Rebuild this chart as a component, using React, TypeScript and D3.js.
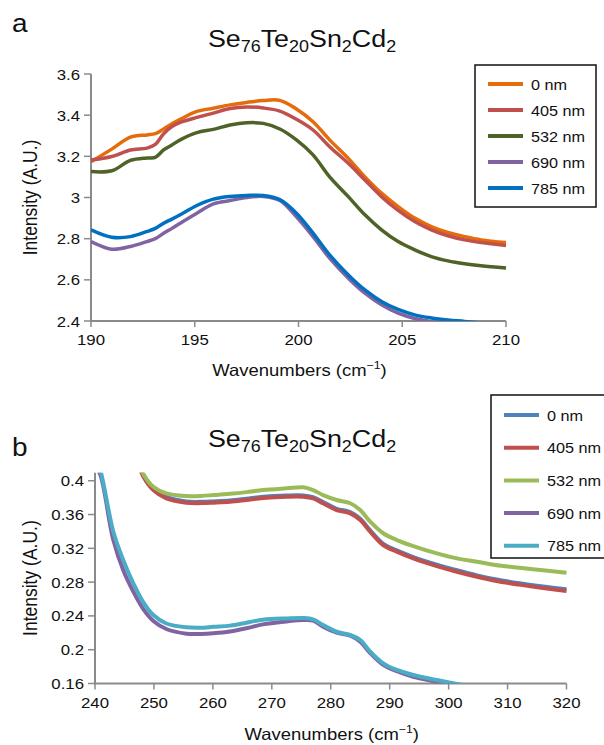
import React from "react";
import * as d3 from "d3";

// ---------- DATA ----------
const LEGEND = ["0 nm", "405 nm", "532 nm", "690 nm", "785 nm"];

const X_A = [190, 191, 191.9, 192.7, 193.1, 193.5, 193.9, 194.3, 195.1, 195.9, 196.7, 197.5, 198.3, 199.1, 199.9, 200.7, 201.5, 202.4, 203.2, 204.0, 204.8, 205.6, 206.4, 207.2, 208.0, 208.8, 210];
const A_0 = [3.174, 3.235, 3.293, 3.304, 3.31, 3.333, 3.358, 3.38, 3.418, 3.434, 3.45, 3.462, 3.471, 3.472, 3.43, 3.368, 3.28, 3.19, 3.10, 3.021, 2.956, 2.90, 2.859, 2.83, 2.81, 2.794, 2.781];
const A_405 = [3.182, 3.199, 3.231, 3.24, 3.258, 3.31, 3.345, 3.365, 3.389, 3.41, 3.432, 3.44, 3.435, 3.42, 3.38, 3.328, 3.247, 3.166, 3.085, 3.004, 2.937, 2.883, 2.843, 2.814, 2.794, 2.781, 2.767];
const A_532 = [3.126, 3.13, 3.18, 3.192, 3.195, 3.231, 3.255, 3.28, 3.315, 3.331, 3.352, 3.363, 3.36, 3.333, 3.28, 3.207, 3.10, 3.004, 2.916, 2.843, 2.786, 2.746, 2.713, 2.692, 2.678, 2.668, 2.657];
const A_690 = [2.786, 2.749, 2.762, 2.786, 2.8, 2.826, 2.85, 2.875, 2.924, 2.969, 2.985, 3.0, 3.005, 2.985, 2.906, 2.81, 2.705, 2.608, 2.535, 2.479, 2.438, 2.412, 2.397, 2.386, 2.376, 2.368, 2.36];
const A_785 = [2.843, 2.807, 2.81, 2.835, 2.85, 2.875, 2.895, 2.916, 2.961, 2.992, 3.005, 3.01, 3.01, 2.99, 2.924, 2.827, 2.721, 2.624, 2.551, 2.495, 2.456, 2.43, 2.415, 2.405, 2.398, 2.39, 2.38];

const X_B = [240, 241, 243.1, 244.8, 246.5, 248.2, 249.9, 252.1, 255.5, 258, 260.1, 262.9, 265.7, 268.5, 272.5, 275.3, 277.0, 278.7, 281.0, 283.3, 285.0, 286.7, 288.9, 291.2, 294.0, 298.0, 301.4, 304.8, 307.9, 312, 316, 320];
const B_0 = [0.602, 0.572, 0.512, 0.472, 0.437, 0.407, 0.391, 0.381, 0.3755, 0.375, 0.3755, 0.3765, 0.3787, 0.381, 0.3825, 0.3826, 0.3806, 0.3748, 0.3668, 0.3629, 0.355, 0.3412, 0.3254, 0.3176, 0.3097, 0.3006, 0.294, 0.288, 0.2834, 0.2787, 0.2748, 0.2715];
const B_405 = [0.60, 0.57, 0.51, 0.47, 0.435, 0.405, 0.389, 0.3792, 0.374, 0.3735, 0.374, 0.375, 0.3772, 0.3795, 0.3811, 0.3811, 0.3792, 0.3733, 0.3653, 0.3614, 0.3535, 0.3397, 0.3239, 0.316, 0.3081, 0.299, 0.2923, 0.2864, 0.2817, 0.277, 0.273, 0.2695];
const B_532 = [0.62, 0.58, 0.52, 0.48, 0.44, 0.408, 0.3929, 0.385, 0.3819, 0.382, 0.383, 0.3845, 0.3865, 0.389, 0.391, 0.3922, 0.389, 0.383, 0.3772, 0.3733, 0.3653, 0.3515, 0.3378, 0.3298, 0.3227, 0.314, 0.3081, 0.3042, 0.3002, 0.297, 0.294, 0.291];
const B_690 = [0.42, 0.405, 0.33, 0.294, 0.2687, 0.248, 0.234, 0.2245, 0.219, 0.2186, 0.2194, 0.2215, 0.2253, 0.23, 0.2335, 0.2352, 0.2345, 0.2272, 0.2201, 0.2165, 0.2095, 0.196, 0.182, 0.1745, 0.168, 0.162, 0.1575, 0.154, 0.151, 0.147, 0.144, 0.141];
const B_785 = [0.43, 0.41, 0.34, 0.306, 0.2786, 0.256, 0.241, 0.231, 0.2265, 0.226, 0.2272, 0.2285, 0.232, 0.2355, 0.237, 0.2375, 0.236, 0.2292, 0.2213, 0.2174, 0.2115, 0.1977, 0.1839, 0.176, 0.1701, 0.1641, 0.1594, 0.155, 0.152, 0.148, 0.145, 0.142];

const TICKS_A_X = [190, 195, 200, 205, 210];
const TICKS_A_Y = [2.4, 2.6, 2.8, 3, 3.2, 3.4, 3.6];
const TICKS_B_X = [240, 250, 260, 270, 280, 290, 300, 310, 320];
const TICKS_B_Y = [0.16, 0.2, 0.24, 0.28, 0.32, 0.36, 0.4];

const COLORS_A = ["#E46C0A", "#C0504D", "#4F6228", "#8064A2", "#0070C0"];
const COLORS_B = ["#4F81BD", "#C0504D", "#9BBB59", "#8064A2", "#4BACC6"];

// ---------- HELPERS ----------
const SX = 1.12;
const FONT = "'Liberation Sans', Arial, Helvetica, sans-serif";
const AXIS = "#8a8a8a";

function T({ x, y, size, anchor = "start", rotate = 0, children }: any) {
  return (
    <g transform={`translate(${x},${y}) scale(${SX},1) rotate(${rotate})`}>
      <text fontFamily={FONT} fontSize={size} textAnchor={anchor} fill="#111">
        {children}
      </text>
    </g>
  );
}

function Title({ x, y }: any) {
  return (
    <T x={x} y={y} size={24} anchor="middle">
      <tspan>Se</tspan>
      <tspan fontSize={16} dy={5}>76</tspan>
      <tspan dy={-5}>Te</tspan>
      <tspan fontSize={16} dy={5}>20</tspan>
      <tspan dy={-5}>Sn</tspan>
      <tspan fontSize={16} dy={5}>2</tspan>
      <tspan dy={-5}>Cd</tspan>
      <tspan fontSize={16} dy={5}>2</tspan>
    </T>
  );
}

function Panel(p: any) {
  const x = d3.scaleLinear().domain(p.xDomain).range([p.left, p.right]);
  const y = d3.scaleLinear().domain(p.yDomain).range([p.bottom, p.top]);
  const line = (vals: number[]) =>
    d3
      .line<number>()
      .x((_, i) => x(p.xs[i]))
      .y((v) => y(v))
      .curve(d3.curveCatmullRom.alpha(0.5))(vals) || "";
  const clipId = `clip-${p.id}`;
  return (
    <g>
      <defs>
        <clipPath id={clipId}>
          <rect x={p.left} y={p.top} width={p.right - p.left + 2} height={p.bottom - p.top} />
        </clipPath>
      </defs>
      <T x={12} y={p.letterY} size={25}>{p.letter}</T>
      <Title x={p.titleX} y={p.titleY} />
      {/* axes */}
      <line x1={p.left} x2={p.left} y1={p.top} y2={p.bottom + 1} stroke={AXIS} strokeWidth={2} />
      <line x1={p.left - 1} x2={p.right} y1={p.bottom} y2={p.bottom} stroke={AXIS} strokeWidth={2} />
      {p.yTicks.map((t: number) => (
        <g key={"y" + t}>
          <line x1={p.left - 7} x2={p.left} y1={y(t)} y2={y(t)} stroke={AXIS} strokeWidth={1.5} />
          <T x={p.left - 11} y={y(t) + 5.5} size={15} anchor="end">{String(t)}</T>
        </g>
      ))}
      {p.xTicks.map((t: number) => (
        <g key={"x" + t}>
          <line x1={x(t)} x2={x(t)} y1={p.bottom} y2={p.bottom + 6} stroke={AXIS} strokeWidth={1.5} />
          <T x={x(t)} y={p.bottom + 24} size={15} anchor="middle">{String(t)}</T>
        </g>
      ))}
      <T x={(p.left + p.right) / 2 + 1} y={p.xTitleY} size={16.5} anchor="middle">
        <tspan>Wavenumbers (cm</tspan>
        <tspan fontSize={11} dy={-7}>−1</tspan>
        <tspan dy={7}>)</tspan>
      </T>
      <T x={37} y={(p.top + p.bottom) / 2} size={17.5} anchor="middle" rotate={-90}>
        Intensity (A.U.)
      </T>
      {/* lines */}
      <g clipPath={`url(#${clipId})`}>
        {p.series.map((s: number[], i: number) => (
          <path key={i} d={line(s)} fill="none" stroke={p.colors[i]} strokeWidth={p.lw} strokeLinejoin="round" />
        ))}
      </g>
      {/* legend */}
      <rect x={p.lg.x} y={p.lg.y} width={p.lg.w} height={p.lg.h} fill="#fff" stroke="#111" strokeWidth={1.5} />
      {LEGEND.map((name, i) => {
        const yy = p.lg.first + i * p.lg.step;
        return (
          <g key={name}>
            <line x1={p.lg.x + 13} x2={p.lg.x + 48} y1={yy} y2={yy} stroke={p.colors[i]} strokeWidth={4} />
            <T x={p.lg.x + 56} y={yy + 5.5} size={14.5}>{name}</T>
          </g>
        );
      })}
    </g>
  );
}

export default function App() {
  return (
    <svg width={604} height={745} style={{ display: "block", position: "absolute", left: 0, top: 0, background: "#fff" }}>
      <rect width={604} height={745} fill="#fff" />
      <Panel
        id="a"
        letter="a"
        letterY={32}
        titleX={302}
        titleY={47}
        xs={X_A}
        series={[A_0, A_405, A_532, A_690, A_785]}
        colors={COLORS_A}
        lw={3.5}
        xDomain={[190, 210]}
        yDomain={[2.4, 3.6]}
        left={91}
        right={506}
        top={74}
        bottom={321}
        xTicks={TICKS_A_X}
        yTicks={TICKS_A_Y}
        xTitleY={376}
        lg={{ x: 475, y: 65, w: 121, h: 142, first: 84, step: 26 }}
      />
      <Panel
        id="b"
        letter="b"
        letterY={456}
        titleX={302}
        titleY={447}
        xs={X_B}
        series={[B_0, B_405, B_532, B_690, B_785]}
        colors={COLORS_B}
        lw={4}
        xDomain={[240, 320]}
        yDomain={[0.16, 0.4095]}
        left={95}
        right={566.5}
        top={472.7}
        bottom={683.5}
        xTicks={TICKS_B_X}
        yTicks={TICKS_B_Y}
        xTitleY={740}
        lg={{ x: 491, y: 395, w: 120, h: 163, first: 415, step: 32.7 }}
      />
    </svg>
  );
}
